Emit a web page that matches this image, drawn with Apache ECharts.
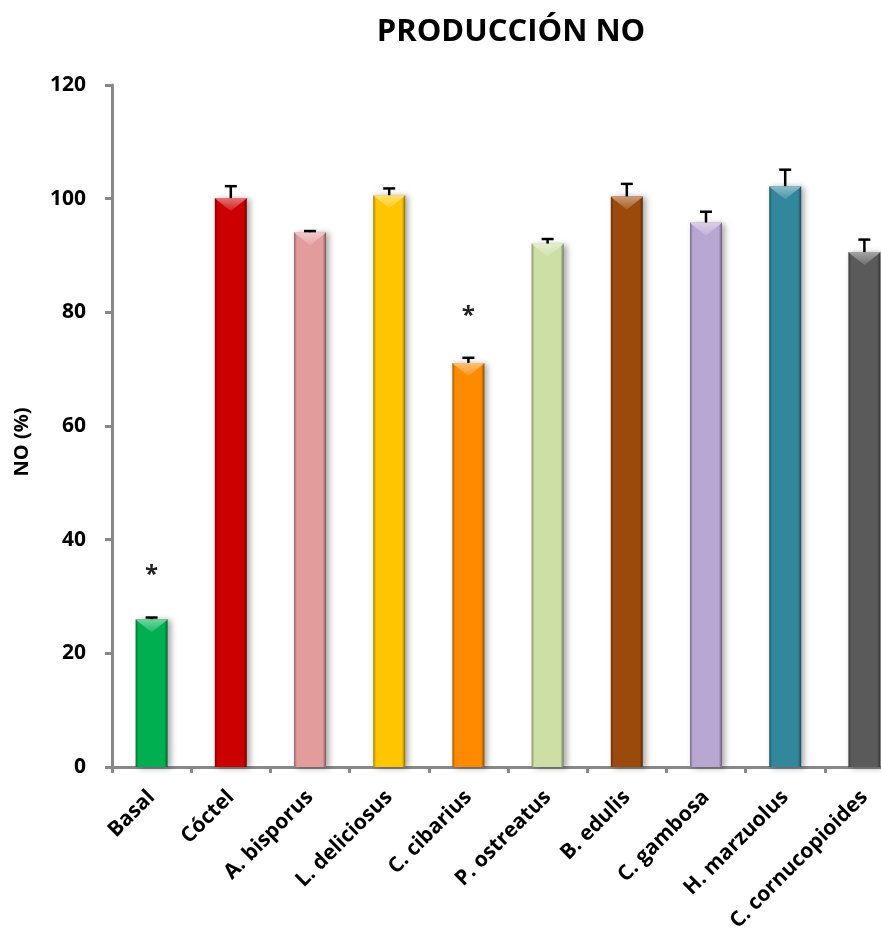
<!DOCTYPE html>
<html>
<head>
<meta charset="utf-8">
<script src="https://cdn.jsdelivr.net/npm/echarts@6/dist/echarts.min.js"></script>
<style>
  html, body { margin: 0; padding: 0; background: #ffffff; overflow: hidden; }
  /* the plot area continues past the right edge of the window */
  #chart { width: 905px; height: 942px; }
</style>
</head>
<body>
<div id="chart"></div>
<script>
// Categories and measured NO production (% of cocktail-stimulated control)
const categories = ['Basal', 'Cóctel', 'A. bisporus', 'L. deliciosus', 'C. cibarius',
                    'P. ostreatus', 'B. edulis', 'C. gambosa', 'H. marzuolus', 'C. cornucopioides'];
const noValues = [26.0, 100.1, 94.1, 100.6, 71.1, 92.1, 100.4, 95.8, 102.2, 90.6];
const noErrors = [0.3, 2.1, 0.2, 1.2, 0.9, 0.8, 2.2, 1.9, 2.9, 2.2];
const significant = [true, false, false, false, true, false, false, false, false, false];
const yMin = 0, yMax = 120, yStep = 20;

// Fill colour of each bar
const barColors = ['#00B050', '#CC0000', '#E39C9C', '#FFC600', '#FF8A00',
                   '#CEDFA6', '#9C4A0C', '#B8A7D2', '#31879C', '#5A5A5A'];

const FONT = '"Open Sans", "DejaVu Sans", sans-serif';
const BAR_W = 32;

function mix(hex, target, t) {
  const n = parseInt(hex.slice(1), 16);
  const r = (n >> 16) & 255, g = (n >> 8) & 255, b = n & 255;
  const m = c => Math.round(c + (target - c) * t);
  return 'rgb(' + m(r) + ',' + m(g) + ',' + m(b) + ')';
}

const barData = noValues.map((v, i) => ({
  value: v,
  itemStyle: {
    color: new echarts.graphic.LinearGradient(0, 0, 1, 0, [
      { offset: 0, color: mix(barColors[i], 0, 0.35) },
      { offset: 0.09, color: barColors[i] },
      { offset: 0.9, color: barColors[i] },
      { offset: 1, color: mix(barColors[i], 0, 0.45) }
    ]),
    shadowColor: 'rgba(0,0,0,0.35)',
    shadowBlur: 6,
    shadowOffsetX: 3,
    shadowOffsetY: 1
  }
}));

// Bevel highlight on the top face of each bar
function renderBevel(params, api) {
  const i = api.value(0);
  const top = api.coord([i, api.value(1)]);
  const x0 = top[0] - BAR_W / 2, x1 = top[0] + BAR_W / 2, y = top[1];
  const c = barColors[i];
  return {
    type: 'polygon',
    shape: { points: [[x0, y], [x1, y], [x1 - 2, y + 2], [top[0], y + 13], [x0 + 2, y + 2]] },
    style: {
      fill: new echarts.graphic.LinearGradient(0, 0, 0, 1, [
        { offset: 0, color: mix(c, 255, 0.45) },
        { offset: 1, color: mix(c, 255, 0.12) }
      ])
    }
  };
}

// Error bars (upper whisker only) and significance asterisks
function renderError(params, api) {
  const i = api.value(0);
  const base = api.coord([i, api.value(1)]);
  const tip = api.coord([i, api.value(1) + api.value(2)]);
  const children = [
    { type: 'line', shape: { x1: base[0], y1: base[1], x2: tip[0], y2: tip[1] },
      style: { stroke: '#000', lineWidth: 2.5 } },
    { type: 'line', shape: { x1: tip[0] - 6, y1: tip[1], x2: tip[0] + 6, y2: tip[1] },
      style: { stroke: '#000', lineWidth: 2.5 } }
  ];
  if (significant[i]) {
    children.push({
      type: 'text',
      style: {
        text: '*', x: tip[0], y: tip[1] - 42,
        font: 'bold 24px ' + FONT, fill: '#222',
        align: 'center', verticalAlign: 'middle'
      }
    });
  }
  return { type: 'group', children: children };
}

const chart = echarts.init(document.getElementById('chart'), null, { renderer: 'canvas' });

chart.setOption({
  animation: false,
  backgroundColor: '#ffffff',
  title: {
    text: 'PRODUCCIÓN NO',
    left: 506, top: 12, textAlign: 'center',
    textStyle: { fontFamily: FONT, fontSize: 31, fontWeight: 'bold', color: '#000' }
  },
  grid: { left: 112, top: 85, right: 1, bottom: 175, containLabel: false },
  xAxis: {
    type: 'category',
    data: categories,
    boundaryGap: true,
    axisLine: { show: true, lineStyle: { color: '#888888', width: 3 } },
    axisTick: { show: true, length: 6, lineStyle: { color: '#888888', width: 3 } },
    axisLabel: {
      rotate: 45, interval: 0, margin: 27,
      fontFamily: FONT, fontSize: 21, fontWeight: 'bold', color: '#000'
    },
    splitLine: { show: false }
  },
  yAxis: {
    type: 'value',
    min: yMin, max: yMax, interval: yStep,
    name: 'NO (%)',
    nameLocation: 'middle',
    nameGap: 80,
    nameTextStyle: { fontFamily: FONT, fontSize: 20, fontWeight: 'bold', color: '#000', padding: [0, 32, 0, 0] },
    axisLine: { show: true, lineStyle: { color: '#888888', width: 3 } },
    axisTick: { show: true, inside: false, length: 7, lineStyle: { color: '#888888', width: 3 } },
    axisLabel: { fontFamily: FONT, fontSize: 21, fontWeight: 'bold', color: '#000', margin: 26 },
    splitLine: { show: false }
  },
  series: [
    {
      type: 'bar',
      data: barData,
      barWidth: BAR_W,
      z: 2
    },
    {
      type: 'custom',
      renderItem: renderBevel,
      data: noValues.map((v, i) => [i, v]),
      z: 3,
      silent: true
    },
    {
      type: 'custom',
      renderItem: renderError,
      data: noValues.map((v, i) => [i, v, noErrors[i]]),
      z: 4,
      silent: true
    }
  ]
});
</script>
</body>
</html>
